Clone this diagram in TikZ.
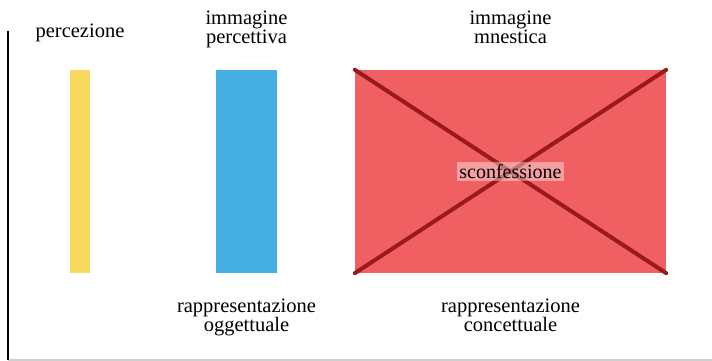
\documentclass[tikz,border=0pt]{standalone}
\usepackage{fontspec}
\setmainfont{Liberation Serif}
\usepackage{xcolor}
\definecolor{cYellow}{HTML}{F8DA60}
\definecolor{cBlue}{HTML}{45AFE3}
\definecolor{cRed}{HTML}{F06063}
\definecolor{cDark}{HTML}{9A1A1C}
\definecolor{cRule}{HTML}{CFCFCF}
\usetikzlibrary{positioning}
\tikzset{
  bar/.style={draw=none,inner sep=0pt,minimum height=203pt},
  bar-label/.style={align=center,font=\fontsize{20.5}{19.5}\selectfont,inner sep=0pt},
  cross-line/.style={draw=cDark,line width=4pt,line cap=round},
  veto-label/.style={fill=white,fill opacity=0.4,text opacity=1,inner sep=2pt,
    font=\fontsize{20}{20}\selectfont},
}

\begin{document}
\begin{tikzpicture}[x=1pt,y=-1pt]
  \useasboundingbox (0,0) rectangle (712,361);
  % cornice
  \coordinate (axis-top) at (8,31);
  \coordinate (axis-bot) at (8,360);
  \coordinate (rule-end) at (712,360);
  \draw[cRule,line width=1.5pt] (axis-bot) -- (rule-end);
  \draw[black,line width=1.8pt] (axis-top) -- (axis-bot);
  % barre
  \node[bar,fill=cYellow,minimum width=20pt] (perc) at (80,171.5) {};
  \node[bar,fill=cBlue,minimum width=61pt] (ogg) at (246.5,171.5) {};
  \node[bar,fill=cRed,minimum width=311pt] (conc) at (510.5,171.5) {};
  \draw[cross-line] (conc.north west) -- (conc.south east);
  \draw[cross-line] (conc.south west) -- (conc.north east);
  \node[veto-label] (veto) at (conc.center) {sconfessione};
  % etichette
  \node[bar-label,anchor=base] (l-perc) at (80,38) {percezione};
  \node[bar-label,anchor=base] (l-perc-img) at (246.5,44) {immagine\\percettiva};
  \node[bar-label,anchor=base] (l-mnest) at (510.5,44) {immagine\\mnestica};
  \node[bar-label,anchor=base] (l-ogg) at (246.5,331.5) {rappresentazione\\oggettuale};
  \node[bar-label,anchor=base] (l-conc) at (510.5,331.5) {rappresentazione\\concettuale};
\end{tikzpicture}
\end{document}
